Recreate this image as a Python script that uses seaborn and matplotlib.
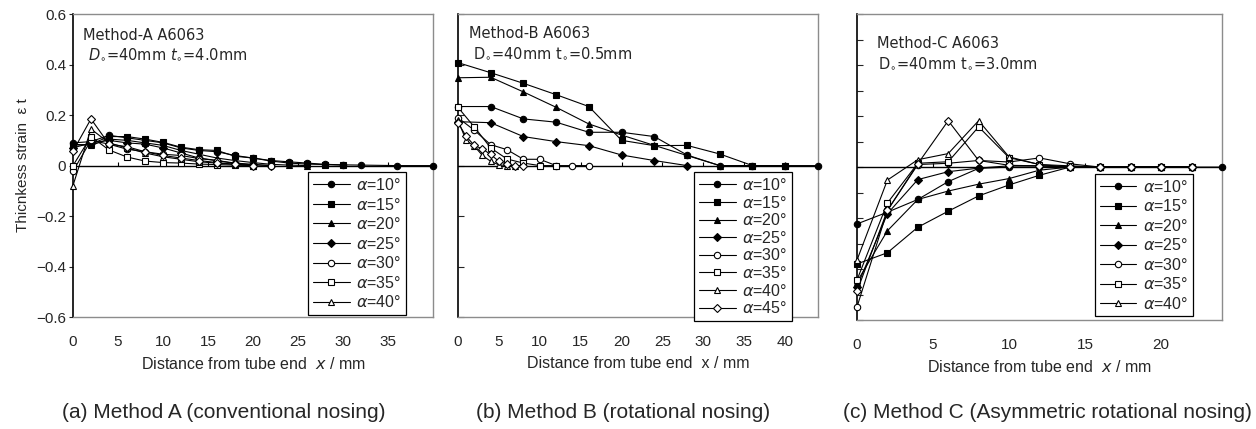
import matplotlib
matplotlib.use("Agg")
import matplotlib.pyplot as plt
import seaborn as sns

# ---- data ----
ANGLES = [10, 15, 20, 25, 30, 35, 40, 45]
MARKERS = ['o', 's', '^', 'D', 'o', 's', '^', 'D']
FILLED = [True, True, True, True, False, False, False, False]

# Method A: common x grid, each series uses the first len(y) points
A_X = [0, 2, 4, 6, 8, 10, 12, 14, 16, 18, 20, 22, 24, 26, 28, 30, 32, 36, 40]
A_10 = [0.09, 0.095, 0.12, 0.11, 0.10, 0.09, 0.07, 0.06, 0.055, 0.04, 0.03, 0.02, 0.015, 0.01, 0.005, 0.003, 0.002, 0.0, 0.0]
A_15 = [0.08, 0.085, 0.115, 0.115, 0.105, 0.092, 0.073, 0.063, 0.06, 0.037, 0.03, 0.018, 0.01, 0.006, 0.004, 0.002]
A_20 = [0.085, 0.08, 0.105, 0.10, 0.09, 0.08, 0.06, 0.045, 0.03, 0.02, 0.012, 0.005, 0.002, 0.0]
A_25 = [0.07, 0.09, 0.10, 0.09, 0.085, 0.07, 0.05, 0.03, 0.02, 0.01, 0.005, 0.0]
A_30 = [-0.022, 0.10, 0.085, 0.065, 0.055, 0.045, 0.04, 0.028, 0.02, 0.008, 0.003, 0.0]
A_35 = [0.0, 0.115, 0.062, 0.034, 0.018, 0.012, 0.01, 0.006, 0.004, 0.002, 0.0]
A_40 = [-0.079, 0.145, 0.09, 0.07, 0.05, 0.035, 0.025, 0.015, 0.01, 0.005, 0.0]
A_45 = [0.057, 0.185, 0.085, 0.075, 0.055, 0.04, 0.03, 0.02, 0.012, 0.005, 0.0]

# Method B: coarse grid for small angles, finer grids for large angles
B_X_COARSE = [0, 4, 8, 12, 16, 20, 24, 28, 32, 36, 40, 44]
B_X_FINE = [0, 1, 2, 3, 4, 5, 6, 7, 8]
B_X_EVEN = [0, 2, 4, 6, 8, 10, 12, 14, 16]
B_10 = [0.234, 0.234, 0.185, 0.172, 0.132, 0.132, 0.115, 0.042, 0.0, 0.0, 0.0, 0.0]
B_15 = [0.408, 0.368, 0.326, 0.281, 0.234, 0.10, 0.079, 0.08, 0.046, 0.0, 0.0]
B_20 = [0.348, 0.35, 0.292, 0.231, 0.165, 0.121, 0.08, 0.04, 0.0, 0.0, 0.0]
B_25 = [0.174, 0.17, 0.115, 0.095, 0.079, 0.042, 0.02, 0.0]
B_30 = [0.19, 0.14, 0.083, 0.063, 0.025, 0.025, 0.0, 0.0, 0.0]
B_35 = [0.231, 0.153, 0.07, 0.026, 0.01, 0.0, 0.0]
B_40 = [0.18, 0.10, 0.077, 0.04, 0.017, 0.003, 0.0, 0.0]
B_45 = [0.17, 0.116, 0.08, 0.066, 0.044, 0.017, 0.005, 0.0, 0.0]

# Method C
C_X = [0, 2, 4, 6, 8, 10, 12, 14, 16, 18, 20, 22, 24]
C_10 = [-0.223, -0.177, -0.127, -0.057, -0.005, 0.0, 0.0, 0.0, 0.0, 0.0, 0.0, 0.0, 0.0]
C_15 = [-0.38, -0.336, -0.236, -0.173, -0.113, -0.07, -0.032, 0.0, 0.0, 0.0, 0.0, 0.0]
C_20 = [-0.45, -0.25, -0.127, -0.094, -0.067, -0.045, -0.012, 0.0, 0.0, 0.0, 0.0, 0.0]
C_25 = [-0.47, -0.183, -0.049, -0.018, -0.004, 0.005, 0.005, 0.0, 0.0, 0.0, 0.0, 0.0]
C_30 = [-0.549, -0.17, 0.01, 0.015, 0.026, 0.02, 0.036, 0.013, 0.0, 0.0, 0.0, 0.0]
C_35 = [-0.443, -0.141, 0.015, 0.021, 0.158, 0.037, 0.01, 0.005, 0.0, 0.0, 0.0, 0.0]
C_40 = [-0.365, -0.051, 0.029, 0.053, 0.182, 0.04, 0.01, 0.0, 0.0, 0.0, 0.0, 0.0]
C_45 = [-0.487, -0.17, 0.013, 0.182, 0.026, 0.007, 0.005, 0.0, 0.0, 0.0, 0.0, 0.0]

A_XTICKS = [0, 5, 10, 15, 20, 25, 30, 35]
B_XTICKS = [0, 5, 10, 15, 20, 25, 30, 35, 40]
C_XTICKS = [0, 5, 10, 15, 20]
Y_TICKS = [-0.6, -0.4, -0.2, 0, 0.2, 0.4, 0.6]
Y_TICK_LABELS = ['\u22120.6', '\u22120.4', '\u22120.2', '0', '0.2', '0.4', '0.6']
C_YTICKS = [-0.6, -0.5, -0.4, -0.3, -0.2, -0.1, 0, 0.1, 0.2, 0.3, 0.4, 0.5, 0.6]

CAPTIONS = ['(a) Method A (conventional nosing)',
            '(b) Method B (rotational nosing)',
            '(c) Method C (Asymmetric rotational nosing)']

sns.set_style('white')
plt.rcParams['font.family'] = ['Liberation Sans', 'DejaVu Sans']
plt.rcParams['mathtext.fontset'] = 'custom'
plt.rcParams['mathtext.rm'] = 'DejaVu Sans'
plt.rcParams['mathtext.it'] = 'DejaVu Sans:italic'

fig = plt.figure(figsize=(12.56, 4.29), dpi=100)
ax_a = fig.add_axes([0.0581, 0.261, 0.2866, 0.706])
ax_b = fig.add_axes([0.3646, 0.261, 0.2866, 0.706])
ax_c = fig.add_axes([0.6823, 0.254, 0.2906, 0.713])

TXT = 10.5
NOTE_FONT = ['DejaVu Sans']


def draw_series(ax, xs, ys_list):
    for ang, mk, filled, ys, x in zip(ANGLES, MARKERS, FILLED, ys_list, xs):
        ms = 3.8 if mk == 'D' else 4.6
        sns.lineplot(x=x[:len(ys)], y=ys, ax=ax, color='black', lw=0.8,
                     marker=mk, markersize=ms,
                     markerfacecolor='black' if filled else 'white',
                     markeredgecolor='black', markeredgewidth=0.8,
                     estimator=None, sort=False, clip_on=False,
                     label=r'$\alpha$=%d°' % ang, zorder=3)


def style_axes(ax, xmax, xticks, n_leg, leg_x, labelspacing):
    ax.set_xlim(0, xmax)
    ax.set_ylim(-0.6, 0.6)
    for side in ['top', 'right', 'bottom']:
        ax.spines[side].set_color('#8c8c8c')
        ax.spines[side].set_linewidth(1.0)
    ax.spines['left'].set_color('black')
    ax.spines['left'].set_linewidth(1.2)
    ax.axhline(0, color='black', lw=1.0, zorder=2)
    ax.vlines(xticks[1:], 0, 0.015, color='black', lw=0.8, zorder=2)
    ax.set_xticks(xticks)
    ax.set_xticklabels([str(t) for t in xticks])
    ax.tick_params(axis='x', length=0, pad=13, labelsize=11)
    h, l = ax.get_legend_handles_labels()
    leg = ax.legend(h[:n_leg], l[:n_leg], loc='upper left',
                    bbox_to_anchor=(leg_x, 0.478), fontsize=11.5,
                    frameon=True, fancybox=False, edgecolor='black',
                    framealpha=1, handlelength=2.3, handletextpad=0.4,
                    labelspacing=labelspacing, borderpad=0.3,
                    borderaxespad=0)
    leg.get_frame().set_linewidth(0.9)


# Panel A
draw_series(ax_a, [A_X] * 8, [A_10, A_15, A_20, A_25, A_30, A_35, A_40, A_45])
style_axes(ax_a, 40, A_XTICKS, 7, 0.653, 0.22)
ax_a.set_yticks(Y_TICKS)
ax_a.set_yticklabels(Y_TICK_LABELS)
ax_a.tick_params(axis='y', direction='out', length=3, width=0.8, left=True,
                 labelsize=11, pad=2)
ax_a.set_ylabel('Thicnkess strain  \u03b5 t', fontsize=11, labelpad=4)
ax_a.set_xlabel('Distance from tube end  $x$ / mm', fontsize=11.5, labelpad=5)
ax_a.text(0.028, 0.931, 'Method-A A6063', transform=ax_a.transAxes,
          fontsize=TXT, va='center', family=NOTE_FONT)
ax_a.text(0.042, 0.865, r'$D_{\circ}$=40mm $t_{\circ}$=4.0mm',
          transform=ax_a.transAxes, fontsize=TXT, va='center', family=NOTE_FONT)

# Panel B
b_xs = [B_X_COARSE] * 4 + [B_X_EVEN, B_X_EVEN, B_X_FINE, B_X_FINE]
draw_series(ax_b, b_xs, [B_10, B_15, B_20, B_25, B_30, B_35, B_40, B_45])
style_axes(ax_b, 44, B_XTICKS, 8, 0.656, 0.1)
ax_b.set_yticks(Y_TICKS)
ax_b.set_yticklabels([])
ax_b.tick_params(axis='y', direction='in', length=4, width=0.8, left=True)
ax_b.set_ylabel('')
ax_b.set_xlabel('Distance from tube end  x / mm', fontsize=11.5, labelpad=5)
ax_b.text(0.031, 0.937, 'Method-B A6063', transform=ax_b.transAxes,
          fontsize=TXT, va='center', family=NOTE_FONT)
ax_b.text(0.042, 0.868, r'$\mathrm{D}_{\circ}$=40mm $\mathrm{t}_{\circ}$=0.5mm',
          transform=ax_b.transAxes, fontsize=TXT, va='center', family=NOTE_FONT)

# Panel C
draw_series(ax_c, [C_X] * 8, [C_10, C_15, C_20, C_25, C_30, C_35, C_40, C_45])
style_axes(ax_c, 24, C_XTICKS, 7, 0.652, 0.22)
ax_c.set_yticks(C_YTICKS)
ax_c.set_yticklabels([])
ax_c.tick_params(axis='y', direction='in', length=4, width=0.8, left=True)
ax_c.set_ylabel('')
ax_c.set_xlabel('Distance from tube end  $x$ / mm', fontsize=11.5, labelpad=5)
ax_c.text(0.055, 0.904, 'Method-C A6063', transform=ax_c.transAxes,
          fontsize=TXT, va='center', family=NOTE_FONT)
ax_c.text(0.058, 0.838, r'$\mathrm{D}_{\circ}$=40mm $\mathrm{t}_{\circ}$=3.0mm',
          transform=ax_c.transAxes, fontsize=TXT, va='center', family=NOTE_FONT)

for cx, cap in zip([224 / 1256, 623 / 1256, 1047 / 1256], CAPTIONS):
    fig.text(cx, 1 - 413 / 429, cap, ha='center', va='center', fontsize=15)

fig.savefig('out.png', dpi=100)
